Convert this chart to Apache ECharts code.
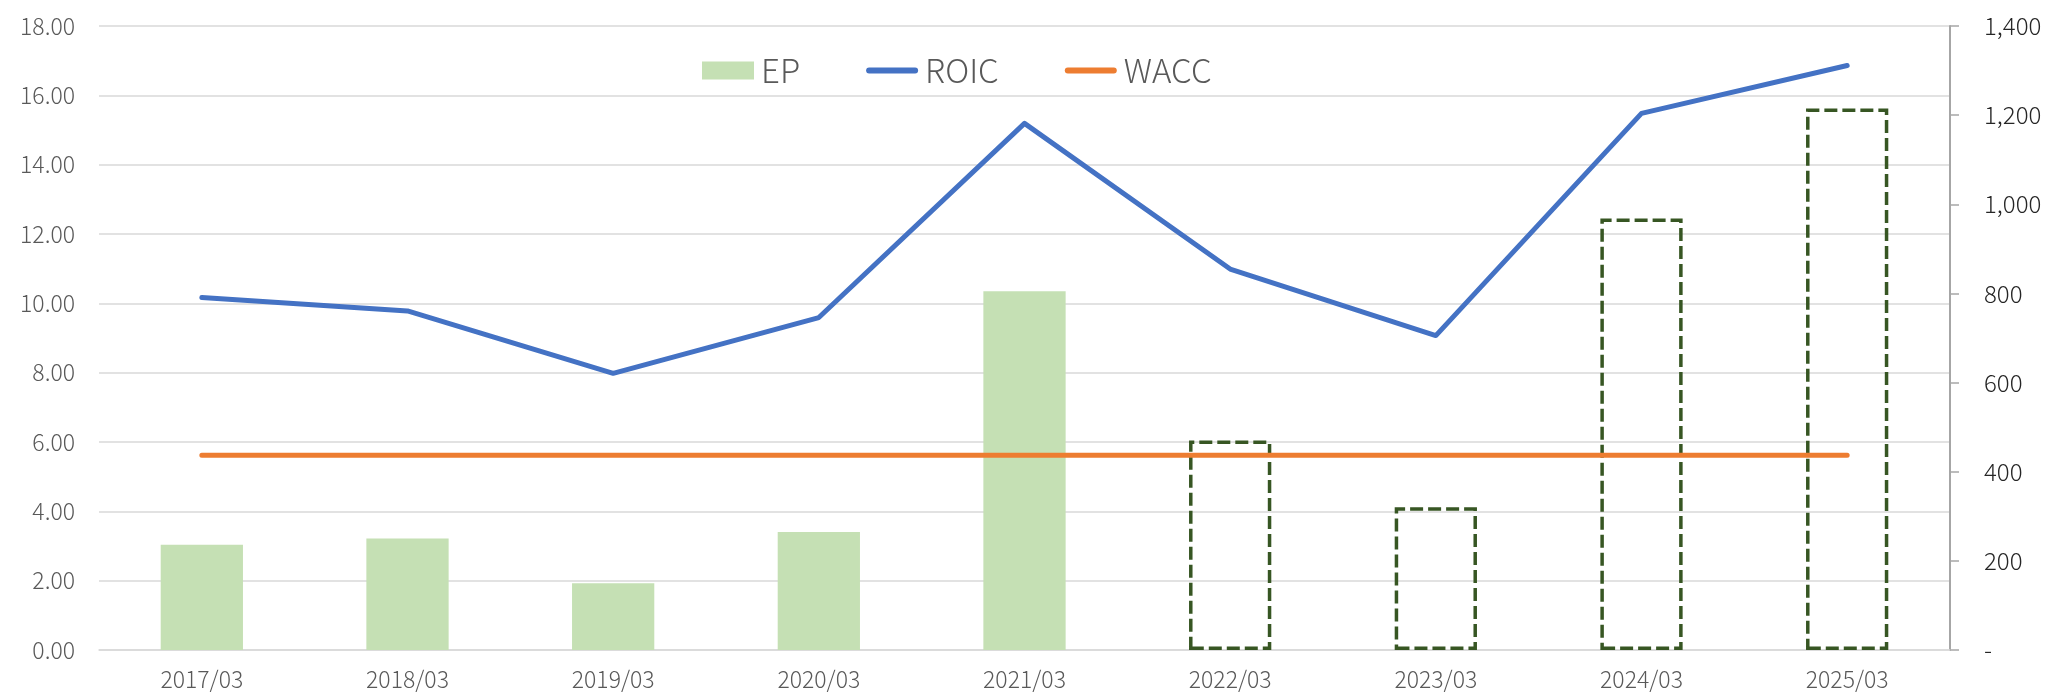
<!DOCTYPE html>
<html>
<head>
<meta charset="utf-8">
<script src="https://cdn.jsdelivr.net/npm/echarts@6/dist/echarts.min.js"></script>
<style>
  html, body { margin: 0; padding: 0; background: #fff; }
  #chart { width: 2054px; height: 693px; }
</style>
</head>
<body>
<div id="chart"></div>
<script>
// データ（年度・EP・ROIC・WACC）
var years = ['2017/03', '2018/03', '2019/03', '2020/03', '2021/03', '2022/03', '2023/03', '2024/03', '2025/03'];
var epValues = [236, 250, 150, 265, 805, 470, 320, 968, 1215];
var roicValues = [10.17, 9.78, 7.98, 9.59, 15.19, 10.99, 9.07, 15.48, 16.86];
var waccValues = [5.62, 5.62, 5.62, 5.62, 5.62, 5.62, 5.62, 5.62, 5.62];
// 2022/03 以降は予想値（点線の枠）
var forecastFrom = 5;

var font = 'Noto Sans CJK JP';
// 凡例用の線アイコン（丸い端）
var lineIcon = 'path://M3,0H49A3,3 0 0 1 49,6H3A3,3 0 0 1 3,0Z';

var epData = epValues.map(function (v, i) {
    if (i < forecastFrom) return v;
    return {
        value: v,
        itemStyle: {
            color: 'rgba(0,0,0,0)',
            borderColor: '#375623',
            borderWidth: 3.5,
            borderType: [13, 5]
        }
    };
});

var myChart = echarts.init(document.getElementById('chart'));

var option = {
    animation: false,
    grid: {
        left: 99,
        right: 104,
        top: 26,
        bottom: 43
    },
    legend: {
        left: 697,
        top: 49,
        itemGap: 66,
        itemWidth: 52,
        itemHeight: 18,
        textStyle: {
            fontFamily: font,
            fontSize: 33,
            fontWeight: 300,
            color: '#595959',
            padding: [0, 0, 0, 2]
        },
        data: [
            { name: 'EP', icon: 'rect' },
            { name: 'ROIC', icon: lineIcon, itemStyle: { color: '#4472C4' } },
            { name: 'WACC', icon: lineIcon, itemStyle: { color: '#ED7D31' } }
        ]
    },
    xAxis: {
        type: 'category',
        data: years,
        axisLine: { lineStyle: { color: '#d9d9d9', width: 1.5 } },
        axisTick: { show: false },
        axisLabel: {
            fontFamily: font,
            fontSize: 23,
            fontWeight: 300,
            color: '#595959',
            margin: 18
        }
    },
    yAxis: [
        {
            type: 'value',
            min: 0,
            max: 18,
            interval: 2,
            axisLine: { show: false },
            axisTick: { show: false },
            splitLine: { lineStyle: { color: '#d9d9d9', width: 1.5 } },
            axisLabel: {
                fontFamily: font,
                fontSize: 23,
                fontWeight: 300,
                color: '#595959',
                margin: 24,
                formatter: function (v) { return v.toFixed(2); }
            }
        },
        {
            type: 'value',
            min: 0,
            max: 1400,
            interval: 200,
            position: 'right',
            axisLine: { show: true, lineStyle: { color: '#a6a6a6', width: 2 } },
            axisTick: { show: true, length: 9, lineStyle: { color: '#a6a6a6', width: 1.5 } },
            splitLine: { show: false },
            axisLabel: {
                fontFamily: font,
                fontSize: 24,
                fontWeight: 300,
                color: '#262626',
                margin: 34,
                formatter: function (v) {
                    if (v === 0) return '-';
                    return v.toLocaleString('en-US');
                }
            }
        }
    ],
    series: [
        {
            name: 'EP',
            type: 'bar',
            yAxisIndex: 1,
            barWidth: '40%',
            itemStyle: { color: '#C5E0B4' },
            data: epData
        },
        {
            name: 'ROIC',
            type: 'line',
            yAxisIndex: 0,
            symbol: 'none',
            itemStyle: { color: '#4472C4' },
            lineStyle: { color: '#4472C4', width: 5, cap: 'round', join: 'round' },
            data: roicValues
        },
        {
            name: 'WACC',
            type: 'line',
            yAxisIndex: 0,
            symbol: 'none',
            itemStyle: { color: '#ED7D31' },
            lineStyle: { color: '#ED7D31', width: 5, cap: 'round' },
            data: waccValues
        }
    ]
};

myChart.setOption(option);
</script>
</body>
</html>
